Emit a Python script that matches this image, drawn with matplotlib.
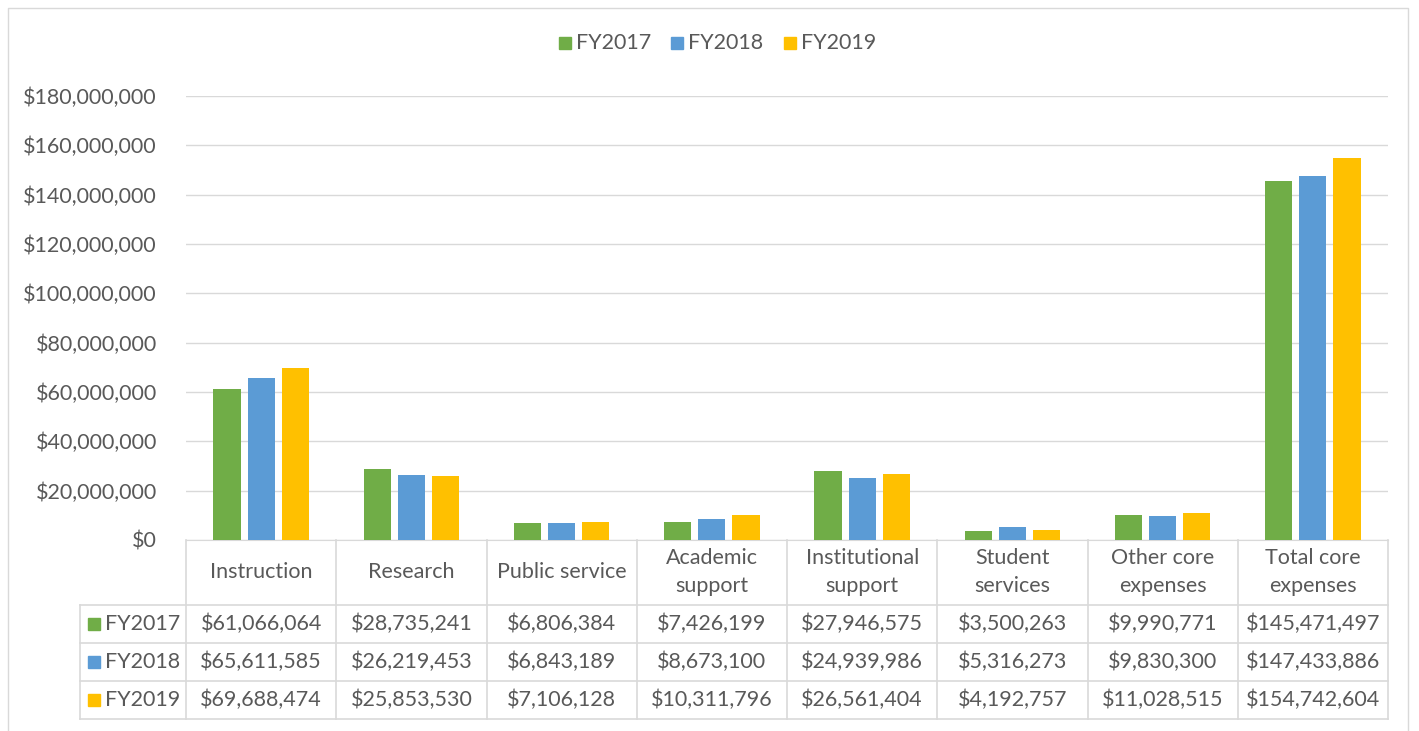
import numpy as np
import matplotlib.pyplot as plt
from matplotlib.patches import Rectangle

categories = ["Instruction", "Research", "Public service", "Academic\nsupport",
              "Institutional\nsupport", "Student\nservices", "Other core\nexpenses",
              "Total core\nexpenses"]
series = ["FY2017", "FY2018", "FY2019"]
fy2017 = [61066064, 28735241, 6806384, 7426199, 27946575, 3500263, 9990771, 145471497]
fy2018 = [65611585, 26219453, 6843189, 8673100, 24939986, 5316273, 9830300, 147433886]
fy2019 = [69688474, 25853530, 7106128, 10311796, 26561404, 4192757, 11028515, 154742604]
colors = ["#70AD47", "#5B9BD5", "#FFC000"]
yticks = np.arange(0, 180000001, 20000000)

W, H = 1419, 731
plt.rcParams['font.family'] = ['Lato', 'DejaVu Sans']
txt = "#595959"
grid = "#D9D9D9"
fs = 15.5

fig = plt.figure(figsize=(W / 100, H / 100), dpi=100)

# pixel helpers
L, R, B, T = 186, 1388, 540, 96
ax = fig.add_axes([L / W, (H - B) / H, (R - L) / W, (B - T) / H])
ov = fig.add_axes([0, 0, 1, 1], zorder=-1)
ov.set_xlim(0, W)
ov.set_ylim(H, 0)
ov.axis('off')

n = len(categories)
x = np.arange(n)
bw = 0.18
off = 0.227
for i, (vals, c) in enumerate(zip([fy2017, fy2018, fy2019], colors)):
    ax.bar(x + (i - 1) * off, vals, bw, color=c, zorder=3)

ax.set_xlim(-0.5, n - 0.5)
ax.set_ylim(0, 180000000)
ax.set_yticks(yticks)
ax.set_yticklabels(["${:,.0f}".format(v) for v in yticks], color=txt, fontsize=fs)
ax.tick_params(axis='y', length=0, pad=21)
ax.set_xticks([])
ax.grid(axis='y', color=grid, lw=1, zorder=0)
for s in ["top", "right", "left"]:
    ax.spines[s].set_visible(False)
ax.spines["bottom"].set_color(grid)
ax.patch.set_alpha(0)

# outer chart border
ov.plot([8, 8, 1408, 1408], [731, 8, 8, 731], color=grid, lw=1)

# legend
lx = [559, 671, 784]
for name, c, px in zip(series, colors, lx):
    ov.add_patch(Rectangle((px, 37), 12, 12, color=c))
    ov.text(px + 17, 43, name, color=txt, fontsize=fs, va='center', ha='left')

# data table
colw = (R - L) / n
rows = [B, 605, 643, 681, 719]
lab_l = 80
for i in range(n + 1):
    xx = L + i * colw
    ov.plot([xx, xx], [B, rows[-1]], color=grid, lw=1.2)
ov.plot([lab_l, lab_l], [rows[1], rows[-1]], color=grid, lw=1.2)
for yy in rows[1:]:
    ov.plot([lab_l, R], [yy, yy], color=grid, lw=1.2)

for j, cat in enumerate(categories):
    cx = L + (j + 0.5) * colw
    ov.text(cx, (rows[0] + rows[1]) / 2, cat, ha='center', va='center',
            color=txt, fontsize=fs, linespacing=1.5)
for r, (name, vals, c) in enumerate(zip(series, [fy2017, fy2018, fy2019], colors)):
    cy = (rows[r + 1] + rows[r + 2]) / 2
    ov.add_patch(Rectangle((88, cy - 6), 12, 12, color=c))
    ov.text(105, cy, name, ha='left', va='center', color=txt, fontsize=fs)
    for j, v in enumerate(vals):
        cx = L + (j + 0.5) * colw
        ov.text(cx, cy, "${:,.0f}".format(v), ha='center', va='center',
                color=txt, fontsize=fs)

fig.savefig("out.png", dpi=100)
